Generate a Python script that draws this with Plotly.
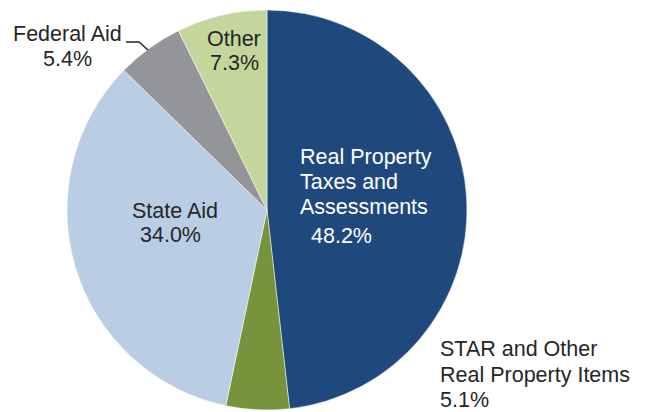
import plotly.graph_objects as go

labels = ["Real Property Taxes and Assessments", "STAR and Other Real Property Items",
          "State Aid", "Federal Aid", "Other"]
values = [48.2, 5.1, 34.0, 5.4, 7.3]
colors = ["#1F497D", "#77933C", "#B9CDE5", "#939598", "#C3D69B"]

W, H = 645, 412

def px(x):
    return x / W

def py(y):
    return 1 - y / H

fig = go.Figure(go.Pie(
    labels=labels, values=values, sort=False, direction="clockwise", rotation=0,
    marker=dict(colors=colors, line=dict(color="white", width=0.5)),
    textinfo="none", hoverinfo="label+percent", showlegend=False,
    domain=dict(x=[px(67), px(467)], y=[py(410), py(10)]),
))

font = "Liberation Sans, Arial, sans-serif"
dark = "#262626"
ann = []

def add(text, x, y, color=dark, xanchor="center"):
    ann.append(dict(text=text, x=px(x), y=py(y), xref="paper", yref="paper",
                    showarrow=False, xanchor=xanchor, yanchor="middle",
                    font=dict(family=font, size=21.5, color=color)))

add("Real Property", 298, 157, "white", "left")
add("Taxes and", 298, 182, "white", "left")
add("Assessments", 298, 207, "white", "left")
add(f"{values[0]:.1f}%", 341, 236, "white")
add("State Aid", 175, 211)
add(f"{values[2]:.1f}%", 170, 235)
add("Other", 234, 39)
add(f"{values[4]:.1f}%", 234, 63)
add("Federal Aid", 67, 34)
add(f"{values[3]:.1f}%", 67, 59)
add("STAR and Other", 438, 349, dark, "left")
add("Real Property Items", 438, 375, dark, "left")
add(f"{values[1]:.1f}%", 438, 400, dark, "left")

fig.update_layout(
    width=W, height=H, margin=dict(l=0, r=0, t=0, b=0),
    paper_bgcolor="white", plot_bgcolor="white",
    annotations=ann,
    shapes=[dict(type="path", xref="paper", yref="paper",
                 path=f"M {px(126)} {py(42)} L {px(139)} {py(42)} L {px(148)} {py(50)}",
                 line=dict(color="#262626", width=1.5))],
)

fig.write_html("out.html", config={"displayModeBar": False})

with open("out.html", encoding="utf-8") as f:
    html = f.read()
html = html.replace("<body>", '<body style="margin:0;overflow:hidden">', 1)
with open("out.html", "w", encoding="utf-8") as f:
    f.write(html)
